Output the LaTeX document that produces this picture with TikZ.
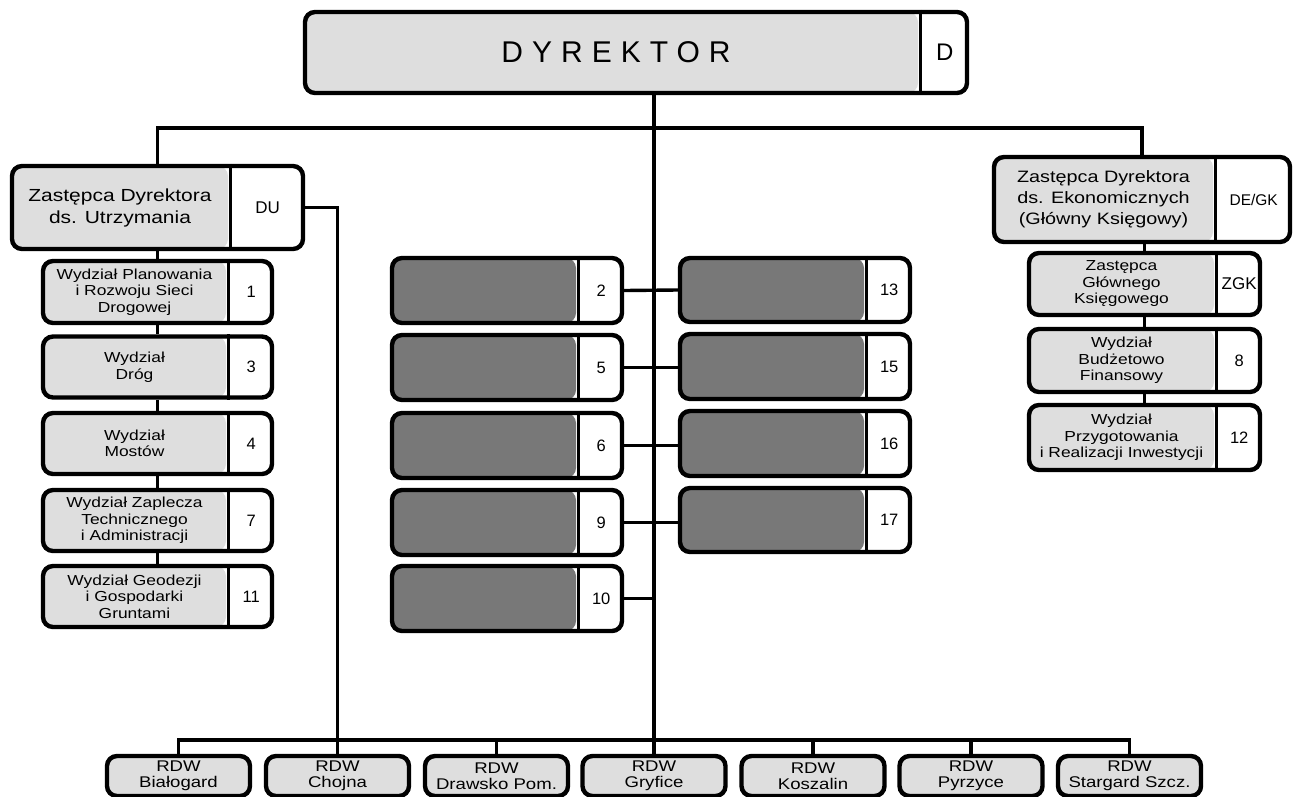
\documentclass[tikz,border=0pt]{standalone}
\usepackage{fontspec}
\setmainfont{Liberation Sans}
\newfontfamily\widefont[FakeStretch=1.2]{Liberation Sans}
\usetikzlibrary{calc}
\definecolor{lightfill}{gray}{0.87}
\definecolor{darkfill}{gray}{0.47}
\newcommand\bt{\widefont\fontsize{14.5}{16.5}\selectfont}
\newcommand\bn{\fontsize{16.5}{18}\selectfont}
\newcommand\rt{\widefont\fontsize{15.5}{16}\selectfont}
\newcommand\lblf{\bt}
\tikzset{
  obox/.style={draw=black, line width=4.4pt, rounded corners=10pt, inner sep=0pt, fill=white},
  divline/.style={line width=3.4pt},
  lbl/.style={align=center, inner sep=0pt, font=\lblf},
  numl/.style={inner sep=0pt},
  conn/.style={line width=3.4pt},
}
% name, cx, cy, width, height, number-part width, fill, text, number
\newcommand\obox[9]{%
  \node[obox, minimum width=#4, minimum height=#5,
        path picture={\fill[#7] (path picture bounding box.south west) rectangle ([xshift=-#6]path picture bounding box.north east);}]
        (#1) at (#2,#3) {};
  \draw[divline] ([xshift=-#6]#1.north east) -- ([xshift=-#6]#1.south east);
  \node[lbl] at ($(#1.west)!0.5!([xshift=-#6]#1.east)$) {#8};
  \node[numl] at ([xshift=-#6/2]#1.east) {#9};
}
\begin{document}
\begin{tikzpicture}[x=1pt,y=-1pt]
\useasboundingbox (0,0) rectangle (1294,796);
% Director
\renewcommand\lblf{\fontsize{30}{32}\selectfont\addfontfeatures{LetterSpace=30}}
\obox{dir}{636}{52.5}{662pt}{81pt}{49pt}{lightfill}{\hspace*{9pt}DYREKTOR}{\fontsize{24}{26}\selectfont D}
% Deputy maintenance
\renewcommand\lblf{\widefont\fontsize{17.5}{22}\selectfont}
\obox{du}{157.5}{207.5}{291pt}{83pt}{75pt}{lightfill}{Zastępca Dyrektora\\ds. Utrzymania}{\fontsize{17}{19}\selectfont DU}
\renewcommand\lblf{\bt}
\obox{w1}{157.5}{292}{229pt}{62pt}{46pt}{lightfill}{Wydział Planowania\\i Rozwoju Sieci\\Drogowej}{\bn 1}
\obox{w3}{157.5}{367}{229pt}{61pt}{46pt}{lightfill}{Wydział\\Dróg}{\bn 3}
\obox{w4}{157.5}{443.5}{229pt}{61pt}{46pt}{lightfill}{Wydział\\Mostów}{\bn 4}
\obox{w7}{157.5}{520.5}{229pt}{61pt}{46pt}{lightfill}{Wydział Zaplecza\\Technicznego\\i Administracji}{\bn 7}
\obox{w11}{157.5}{596.5}{229pt}{61pt}{46pt}{lightfill}{Wydział Geodezji\\i Gospodarki\\Gruntami}{\bn 11}
% Middle column
\obox{m2}{507}{290.5}{230pt}{65pt}{46pt}{darkfill}{}{\bn 2}
\obox{m5}{507}{367.5}{230pt}{65pt}{46pt}{darkfill}{}{\bn 5}
\obox{m6}{507}{445.5}{230pt}{65pt}{46pt}{darkfill}{}{\bn 6}
\obox{m9}{507}{522.5}{230pt}{65pt}{46pt}{darkfill}{}{\bn 9}
\obox{m10}{507}{598.5}{230pt}{65pt}{46pt}{darkfill}{}{\bn 10}
\obox{m13}{795}{290}{230pt}{64pt}{46pt}{darkfill}{}{\bn 13}
\obox{m15}{795}{366.5}{230pt}{65pt}{46pt}{darkfill}{}{\bn 15}
\obox{m16}{795}{443.5}{230pt}{65pt}{46pt}{darkfill}{}{\bn 16}
\obox{m17}{795}{520}{230pt}{64pt}{46pt}{darkfill}{}{\bn 17}
% Deputy economic
\renewcommand\lblf{\widefont\fontsize{16.5}{21}\selectfont}
\obox{de}{1142}{199.5}{296pt}{85pt}{77pt}{lightfill}{Zastępca Dyrektora\\ds. Ekonomicznych\\(Główny Księgowy)}{\fontsize{15.5}{17}\selectfont DE/GK}
\renewcommand\lblf{\bt}
\obox{zgk}{1144.5}{284}{231pt}{62pt}{46pt}{lightfill}{Zastępca\\Głównego\\Księgowego}{\fontsize{17}{19}\selectfont ZGK}
\obox{w8}{1144.5}{360.5}{231pt}{63pt}{46pt}{lightfill}{Wydział\\Budżetowo\\Finansowy}{\bn 8}
\obox{w12}{1144.5}{437.5}{231pt}{65pt}{46pt}{lightfill}{Wydział\\Przygotowania\\i Realizacji Inwestycji}{\bn 12}
% RDW row
\tikzset{rdw/.style={draw=black, line width=4.4pt, rounded corners=10pt, fill=lightfill, minimum width=143pt, minimum height=40pt, align=center, inner sep=0pt, font=\rt}}
\node[rdw] (bia) at (178.5,776) {RDW\\Białogard};
\node[rdw] (cho) at (337.5,776) {RDW\\Chojna};
\node[rdw] (dra) at (496.5,776) {RDW\\Drawsko Pom.};
\node[rdw] (gry) at (654,776) {RDW\\Gryfice};
\node[rdw] (kos) at (813,776) {RDW\\Koszalin};
\node[rdw] (pyr) at (971,776) {RDW\\Pyrzyce};
\node[rdw] (sta) at (1129.5,776) {RDW\\Stargard Szcz.};
% connectors
\coordinate (tb) at (654,128);
\coordinate (bb) at (654,740);
\draw[conn] (dir.south -| gry.north) -- (gry.north);
\draw[conn] (du.north) |- (tb) -| (de.north);
\draw[conn] (du.south) -- (w1.north);
\draw[conn] (w1.south) -- (w3.north);
\draw[conn] (w3.south) -- (w4.north);
\draw[conn] (w4.south) -- (w7.north);
\draw[conn] (w7.south) -- (w11.north);
\draw[conn] (du.east) -| (cho.north);
\draw[conn] (bia.north) |- (bb) -| (sta.north);
\draw[conn] (dra.north) -- (dra.north |- bb);
\draw[conn] (kos.north) -- (kos.north |- bb);
\draw[conn] (pyr.north) -- (pyr.north |- bb);
\draw[conn] (m2.east) -- (m13.west);
\draw[conn] (m5.east) -- (m5.east -| m15.west);
\draw[conn] (m6.east) -- (m6.east -| m16.west);
\draw[conn] (m9.east) -- (m9.east -| m17.west);
\draw[conn] (m10.east) -- (m10.east -| gry.north);
\draw[conn] (zgk.north) -- (zgk.north |- de.south);
\draw[conn] (zgk.south) -- (w8.north);
\draw[conn] (w8.south) -- (w12.north);
\end{tikzpicture}
\end{document}
